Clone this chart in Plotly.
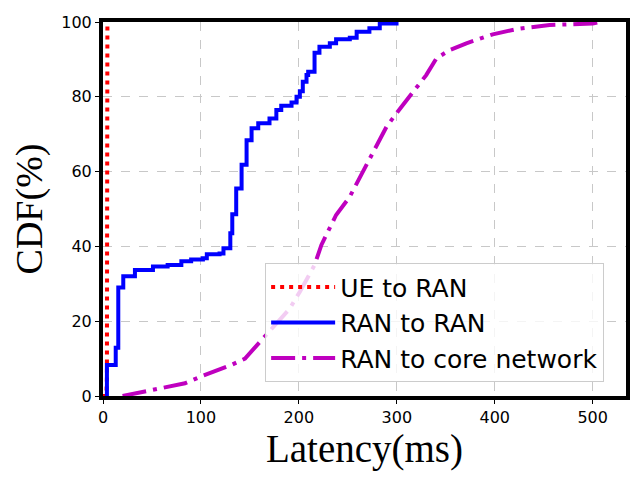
import plotly.graph_objects as go

# UE to RAN
ue_x = [3.5, 4.0, 4.0, 4.5]
ue_y = [0, 5, 95, 100]

# RAN to RAN (step CDF)
rr_x = [4, 13, 15.6, 20.7, 32.6, 51, 66, 80, 90, 102, 106, 119, 123, 130, 132, 136, 141.5,
        146.6, 151.7, 158.5, 170, 177, 182, 192.5, 197.6, 201, 204, 207.8, 209.5, 216, 221,
        231.6, 238, 252, 259, 272, 282.6, 299.7]
rr_y = [8.3, 12.9, 29, 32, 33.7, 34.6, 35, 36, 36.5, 36.8, 37.9, 38.1, 39.5, 43.5, 48.6, 55.5, 61.8,
        68.4, 71.6, 72.9, 74.2, 76.5, 77.6, 78.5, 80.0, 81.5, 84, 85.8, 86.7, 91.8, 93.4,
        94.3, 95.4, 95.8, 97.4, 98.3, 99.6, 100]

# RAN to core network
rc_x = [20, 60, 83.7, 100, 131, 145, 158.5, 168.7, 190.8, 201, 216, 223, 238, 252, 265.6,
        276, 289.5, 299.7, 313, 330, 340.5, 354, 371, 398, 422, 456, 500, 507]
rc_y = [0, 2, 3.4, 5.2, 8.3, 10, 14, 17.2, 23.4, 27.9, 35, 40.4, 48.4, 53.3, 60,
        65.3, 72, 75.6, 80, 85.8, 90.3, 92.5, 94.3, 96.7, 98.1, 99.2, 99.6, 100]

x_ticks = [0, 100, 200, 300, 400, 500]
y_ticks = [0, 20, 40, 60, 80, 100]

fig = go.Figure()
fig.add_trace(go.Scatter(x=[0] + ue_x, y=[0] + ue_y, mode="lines", name="UE to RAN",
                         line=dict(color="red", width=4, dash="4px,5px")))
fig.add_trace(go.Scatter(x=[rr_x[0]] + rr_x, y=[0] + rr_y, mode="lines", name="RAN to RAN",
                         line=dict(color="blue", width=4, shape="hv")))
fig.add_trace(go.Scatter(x=rc_x, y=rc_y, mode="lines", name="RAN to core network",
                         line=dict(color="#bf00bf", width=4, dash="24px,7px,4px,7px")))

axis_common = dict(showline=True, linewidth=4, linecolor="black", mirror=True,
                   showgrid=True, gridcolor="#c8c8c8", griddash="dash", gridwidth=1,
                   ticks="outside", ticklen=4, tickwidth=1, tickcolor="black",
                   tickfont=dict(family="DejaVu Sans", size=16, color="black"),
                   zeroline=False, automargin=False)

fig.update_layout(
    width=640, height=480,
    margin=dict(l=95, r=22, t=14, b=92),
    plot_bgcolor="white", paper_bgcolor="white",
    xaxis=dict(range=[0, 534], tickvals=x_ticks,
               title=dict(text="Latency(ms)", font=dict(family="Liberation Serif", size=39, color="black"),
                          standoff=0),
               **axis_common),
    yaxis=dict(range=[0, 100], tickvals=y_ticks,
               title=dict(text="CDF(%)", font=dict(family="Liberation Serif", size=38, color="black"),
                          standoff=10),
               **axis_common),
    legend=dict(x=0.31, y=0.355, xanchor="left", yanchor="top",
                bgcolor="rgba(255,255,255,0.8)", bordercolor="#cccccc", borderwidth=1,
                font=dict(family="DejaVu Sans", size=25, color="black"),
                itemwidth=64, tracegroupgap=0),
    showlegend=True,
)

fig.write_html("out.html")
